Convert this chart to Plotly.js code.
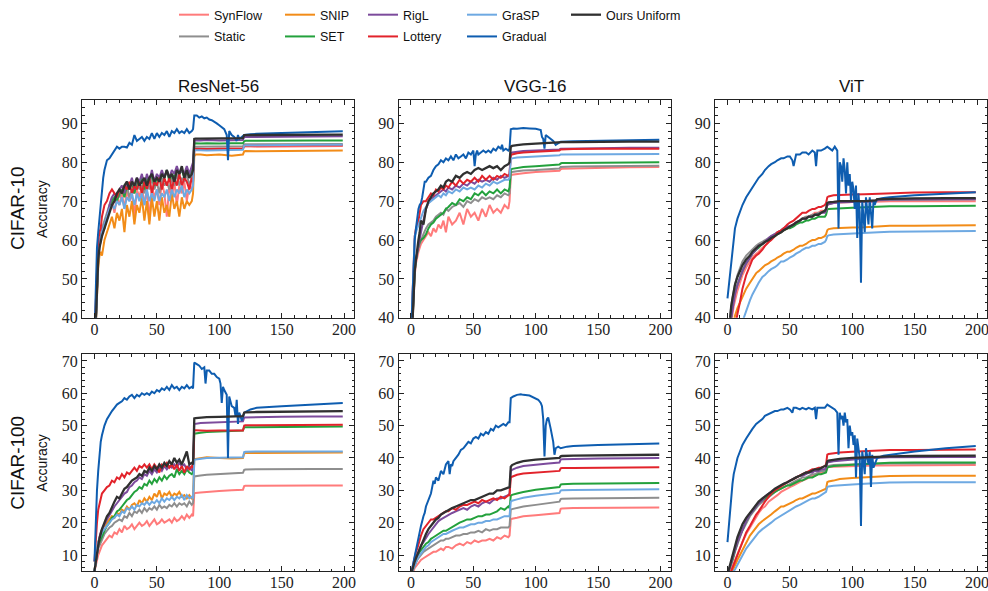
<!DOCTYPE html>
<html>
<head>
<meta charset="utf-8">
<script src="https://cdn.plot.ly/plotly-3.0.1.min.js"></script>
<style>html,body{margin:0;padding:0;background:#fff;}#chart{width:988px;height:591px;}</style>
</head>
<body>
<div id="chart"></div>
<script>
// ---------------- DATA ----------------
const METHODS = ['SynFlow','Static','SNIP','SET','RigL','Lottery','GraSP','Gradual','Ours Uniform'];
const COLUMN_TITLES = ['ResNet-56','VGG-16','ViT'];
const ROW_TITLES = ['CIFAR-10','CIFAR-100'];
const X_TICKS = [0,50,100,150,200];

// epoch grids
const EPOCHS_RES = [0,1,2,3,4,5,6,
 8,10,12,14,16,18,20,22,24,26,28,30,32,34,36,38,40,42,44,46,48,50,52,54,56,58,60,62,64,66,68,70,72,74,76,78,
 79,80,81,85,90,100,110,119,120,121,130,150,175,199];
const EPOCHS_VGG = [0,1,2,3,4,5,6,7,8,
 10,12,14,16,18,20,22,24,26,28,30,
 33,36,39,42,45,48,51,54,57,60,63,66,69,72,75,78,
 79,80,81,85,90,100,110,119,120,121,130,150,175,199];
const EPOCHS_VIT = [0,1,2,3,4,5,6,
 8,10,12,15,18,20,23,25,28,30,
 33,35,38,40,43,45,48,50,53,55,
 58,60,63,65,68,70,73,75,78,
 79,80,81,85,90,100,110,119,120,121,130,150,175,199];

// ResNet-56 / CIFAR-10
const SYNFLOW_RES_C10 = [30,38,48,55,58,60,62,
 64,66,68,70,67,71,69,72,68,
 73,70,72,66,73,71,74,69,73,
 65,74,71,73,69,75,72,66,74,
 71,75,69,74,72,75,70,74,73,
 75,83.5,83.6,83.5,83.4,83.6,83.5,83.6,84,84.1,84,84.1,84.1,84.2];
const STATIC_RES_C10 = [30,40,50,56,59,61,63,
 65,67,69,71,70,72,71,73,72,
 74,71,73,72,75,73,74,72,75,
 73,76,73,75,72,76,74,75,73,
 76,74,77,74,76,75,77,74,76,
 77,84,84,84,84.1,84,84.1,84.1,84.6,84.6,84.6,84.7,84.7,84.7];
const SNIP_RES_C10 = [30,38,47,53,56,57,56,
 60,62,64,66,63,67,65,68,62,
 69,66,70,64,69,67,71,65,70,
 64,71,66,70,65,71,67,69,66,
 72,68,70,66,71,68,70,69,70,
 72,81.5,82,82,81.8,82,81.7,82,82.8,82.9,82.8,82.9,82.9,83];
const SET_RES_C10 = [30,40,50,56,59,60,62,
 63,66,68,70,71,70,72,73,71,
 74,73,75,72,75,74,76,73,76,
 75,77,74,76,75,77,76,78,75,
 77,76,78,77,78,76,78,77,78,
 79,84.8,84.9,84.8,84.9,84.8,84.9,84.9,85.4,85.5,85.5,85.6,85.6,85.6];
const RIGL_RES_C10 = [30,40,51,56,59,61,62,
 64,66,69,71,72,71,73,74,72,
 75,74,76,73,76,75,77,74,77,
 75,78,75,77,76,78,76,78,76,
 78,77,79,77,78,77,79,77,79,
 80,85.5,85.6,85.6,85.7,85.6,85.7,85.7,86.5,86.5,86.6,86.6,86.6,86.7];
const LOTTERY_RES_C10 = [35,45,55,60,62,63,66,
 69,70,72,73,72,71,73,72,74,
 73,75,72,74,73,75,72,75,73,
 76,72,75,74,76,73,76,74,76,
 73,76,74,77,74,76,75,73,76,
 75,83.3,83.4,83.4,83.5,83.4,83.5,83.5,84.2,84.3,84.3,84.4,84.4,84.4];
const GRASP_RES_C10 = [30,40,50,55,58,60,62,
 64,66,68,69,68,70,69,71,68,
 71,70,72,69,72,70,72,69,73,
 70,72,70,73,70,72,71,73,70,
 73,71,73,72,74,71,73,72,73,
 74,83,83.1,83.1,83,83.1,83.2,83.2,84.3,84.4,84.4,84.5,84.5,84.5];
const OURS_RES_C10 = [30,38,48,55,58,60,61,
 63,65,67,69,70,72,73,72,74,
 75,73,75,74,76,74,75,76,74,
 76,77,75,76,75,77,76,78,76,
 77,75,78,77,79,76,78,76,77,
 78,86,86.1,86.1,86.1,86.1,86.2,86.2,87,87,87,87.1,87.1,87.1];
const GRADUAL_RES_C10_X = [0,1,2,3,4,5,6,7,8,9,
 10,12,14,16,18,20,22,24,26,28,
 30,32,34,36,38,40,42,44,46,48,
 50,52,54,56,58,60,62,64,66,68,
 70,72,74,76,78,79,80,82,84,86,
 88,90,92,94,96,98,100,102,104,106,
 107,108,110,112,114,115,116,118,119,120,
 125,130,150,175,199];
const GRADUAL_RES_C10 = [35,48,58,62,66,70,73,76,78,79,
 80.5,81,82,83,84,83.5,84,84,83.8,85,
 84.5,87,85.5,86,86.5,85.5,86.5,86,87.5,86,
 87.5,86.5,87.5,87,88,86.5,88,87.5,88.5,87.5,
 88,87.5,88.5,87.5,88,88.5,92,92,91.5,91.8,
 91.3,91.5,91,90.8,90.5,90,89.5,89,88.5,87,
 80.5,88,87,86.5,85.5,87,86,86.5,86.8,87,
 87.2,87.3,87.5,87.8,88];

// ResNet-56 / CIFAR-100
const SYNFLOW_RES_C100 = [5,7,9,10,11,12,13,
 14,15,16,15.5,17,16.5,18,17,19,
 18,18.5,19.5,18,19,20,19,19.5,20.5,
 19,20,21,19.5,20,21,20,20.5,21,
 20,21.5,20.5,21,22,21,22.5,21.5,22.5,
 22,29,29.2,29.3,29.5,29.8,30,30.2,31.3,31.4,31.4,31.5,31.5,31.5];
const STATIC_RES_C100 = [5,8,10,12,13,14,15,
 16.5,17.5,18.5,19,20,20.5,21,20.5,22,
 21.5,23,22,23.5,23,24,23,24.5,23.5,
 24.5,24,25,24,25.5,24.5,25,24.5,25.5,
 25,26,25,26,25.5,26,25,26.5,25.5,
 26,34.3,34.4,34.6,34.8,35,35.2,35.4,36.3,36.4,36.5,36.6,36.6,36.6];
const SNIP_RES_C100 = [5,9,12,14,15.5,17,18,
 19,20,21,22,21.5,23,22.5,24,23.5,
 25,24,25.5,26,25,27,26,27.5,26.5,
 28,27,29,28,30,27.5,29,28.5,29.5,
 28,29,28.5,29.5,28,28.5,27.5,28.5,27.5,
 28,39.5,39.7,40,40.2,40,39.8,40,41.4,41.5,41.5,41.6,41.6,41.7];
const SET_RES_C100 = [5,8,11,13,14,15,16,
 17.5,19,20,21.5,22,23.5,24,25,26,
 27,27.5,28.5,29.5,30,31,30.5,32,31.5,
 33,32,33.5,32.5,34,33,34.5,33.5,34.5,
 35,34,36.5,35,36,35,36.5,35.5,35,
 35.5,47.5,47.6,47.8,48,48.2,48.3,48.5,49.5,49.5,49.6,49.7,49.7,49.7];
const RIGL_RES_C100 = [5,8,11,14,15.5,17,18,
 19.5,21,22.5,24,25,26,27,28,29,
 29.5,31,31.5,32.5,33,34,33.5,35,34.5,
 36,35,36.5,35.5,37,36,37.5,36.5,37.5,
 37,38,37,38.5,37.5,38,36.5,37.5,36,
 37,50.5,50.6,50.8,50.9,51,51.2,51.3,52.5,52.5,52.6,52.7,52.8,52.8];
const LOTTERY_RES_C100 = [8,15,20,24,26,28,29,
 30,31,31.5,33,32.5,34,33.5,35,34,
 35.5,35,36,37,36,37.5,37,38,37,
 38,36.5,38,37,35.5,38,37.5,38.5,37,
 38,36.5,38,36,37.5,35.5,37.5,36.5,37.5,
 37,48.5,48.6,48.5,48.4,48.5,48.4,48.5,50,50.1,50.1,50.2,50.2,50.3];
const GRASP_RES_C100 = [5,9,12,14,15,16,17,
 18,19,20,21,21.5,22.5,22,23.5,23,
 24.5,24,25,24,25.5,25,26,25.5,26.5,
 25.5,26.5,26,27,26,27.5,26.5,27.5,27,
 28,27,28,27.5,28.5,27,28.5,27.5,28,
 27.5,39.3,39.5,39.8,40,40.1,40.2,40.2,41.8,41.9,42,42,42,42];
const OURS_RES_C100 = [5,8,11,13,15,17,18,
 20,22,23,25,26.5,28,27.5,29,30.5,
 31,32,33,33.5,34,35,34.5,36,35.5,
 37,36,37.5,36.5,38,37,38.5,37.5,39,
 38,40,38.5,39.5,38,40,42,38,38.5,
 38,52.2,52.3,52.5,52.6,52.7,52.8,52.9,54,54.1,54.2,54.3,54.4,54.5];
const GRADUAL_RES_C100_X = [0,1,2,3,4,5,6,7,8,10,
 12,14,16,18,20,22,24,26,28,30,
 32,34,36,38,40,42,44,46,48,50,
 52,54,56,58,60,62,64,66,68,70,
 72,74,76,78,79,80,82,84,86,88,
 89,90,92,94,96,98,100,101,102,103,
 104,106,107,108,110,112,113,114,115,116,
 117,118,119,120,125,130,150,175,199];
const GRADUAL_RES_C100 = [8,20,30,36,41,45,47,49,50,52,
 53.5,54.5,55.5,56.5,57,57.5,58.5,58,59,59.5,
 58.5,59.5,59,60,59.5,60,59.5,60.5,60,61,
 60.5,61.5,61,62,61,62.5,61.5,62,61,62,
 61.5,62.5,61.5,62,61.5,69.5,69,68.5,67.5,68,
 63,67,67,66,66,65,64.5,63,57,62,
 61,59.5,40,59,56,55.5,53,58,50.5,54,
 53,51.5,52.5,54,55,55.5,56,56.6,57];

// VGG-16 / CIFAR-10
const SYNFLOW_VGG_C10 = [30,38,46,51,54,56,57,58,59,
 60,61,62,61,63,62,64,63,65,62,66,
 64,65,67,64,68,66,67,65,68,66,69,67,68,67,69,68,
 70,76.5,76.8,77,77.2,77.5,77.6,77.8,78.2,78.3,78.4,78.6,78.7,78.8];
const STATIC_VGG_C10 = [30,38,47,52,55,57,58,59,60,
 61.5,63,64,64.5,65,66,66.5,67,66.5,68,67.5,
 68.5,69,69.5,68.5,70,69.5,70.5,70,71,70.5,71,70.5,71.5,71,72,71.5,
 72,77.3,77.5,77.7,77.9,78,78.2,78.4,78.8,78.8,78.9,79,79,79.1];
const SET_VGG_C10 = [30,38,47,52,55,57,58.5,59.5,60,
 60.5,61.5,63,64,64.5,65.5,66,66.5,67,68,68.5,
 69.5,69,70.5,70,71,70.5,72,71.5,72.5,71.5,72.5,72,73,72,73,72.5,
 73.5,78,78.3,78.6,78.8,79,79.2,79.4,79.7,79.8,79.8,79.9,80,80];
const RIGL_VGG_C10 = [30,39,48,53,55,57,58,60,62,
 65,68,69.5,70.5,71,71.5,72,72.5,73,72.5,73.5,
 73,74,73.5,74.5,74,75,74.5,75.5,75,75.5,75,76,75.5,76.5,76,76.5,
 77,82.3,82.5,82.7,82.9,83,83.1,83.3,83.5,83.5,83.6,83.6,83.7,83.7];
const LOTTERY_VGG_C10 = [35,45,55,61,63,64,65,67,69,
 70,70,71,72,71.5,73,72.5,73.5,73,74,73.5,
 75,74,75.5,74.5,75.5,75,76,75,76.5,75.5,76.5,75.5,76.5,76,77,76.5,
 77,81.8,82,82.3,82.5,82.7,82.8,83,83.3,83.3,83.4,83.5,83.5,83.5];
const GRASP_VGG_C10 = [35,45,55,61,62,63,64,65,66,
 67.5,68.5,69.5,70,70.5,71,71.5,71,72,71.5,72.5,
 72,73,72.5,73.5,73,73.5,73,74,73.5,74.5,74,75,74.5,75,75.5,75.5,
 76,80.8,81,81.2,81.3,81.5,81.6,81.8,82,82,82,82.1,82.1,82.1];
const OURS_VGG_C10 = [30,38,46,52,55,58,60,62,65,
 64,68,70,71,72,72.5,73,74,73.5,75,75.5,
 75,76.5,76,77,77.5,77,78,78.5,78,78.5,79,78.5,79,78,79,79.5,
 80,84,84.2,84.4,84.6,84.8,85,85.1,85.2,85.2,85.2,85.3,85.3,85.3];
const GRADUAL_VGG_C10_X = [0,1,2,3,4,5,6,7,8,9,
 10,11,12,14,16,18,20,22,24,26,
 28,30,32,34,36,38,40,42,44,46,
 48,50,51,52,53,54,56,58,60,62,
 64,66,68,70,72,73,74,76,78,79,
 80,82,85,90,95,100,104,105,106,107,
 108,110,112,114,116,118,120,130,150,175,
 199];
const GRADUAL_VGG_C10 = [35,45,55,60,63,66,68,69,69.5,71,
 73,75,75,76,76.5,78,79,79.5,80.5,80,
 81,80.5,81.5,80.5,82,81,81.5,82,81,82.5,
 82,83,79,82,83,82,82.5,83,82.5,83,
 82.5,83.5,83,84,83.5,84.5,83,83.5,83,83.5,
 88.5,88.7,88.6,88.8,88.7,88.6,88.3,86.5,86,83.5,
 87,86.5,86,85.5,84.5,85,85.3,85.4,85.5,85.7,
 85.8];

// VGG-16 / CIFAR-100
const SYNFLOW_VGG_C100 = [4,4.5,5,6,6.5,7,7.5,8,8.5,
 9,9.5,10,10.5,11,11,11.5,12,11.5,12.5,12.5,
 12,13,13.5,13,14,13.5,14.5,14,14.5,14.5,15,14.5,15.5,15,16,15.5,
 16,21,21.2,21.5,22,22.3,22.6,23,24.3,24.4,24.5,24.6,24.7,24.7];
const STATIC_VGG_C100 = [4,5,6,7,8,8.5,9,9.5,10,
 11,11.5,12,12.5,13,13.5,14,14.5,14.5,15,15,
 15.5,16,16,16.5,16.5,17,17,17.5,17,18,17.5,18,18,18.5,18.5,18.5,
 19,24,24.2,24.5,25,25.5,26,26.5,27.3,27.4,27.5,27.6,27.7,27.7];
const SET_VGG_C100 = [4,5,6.5,7.5,8.5,9,10,11,11.5,
 12.5,13.5,14,15,15.5,16,16.5,17,17.5,17.5,18,
 18.5,19.5,20,20.5,21,21,21.5,22,22,22.5,22.5,23,23.5,24.5,24,25,
 24.5,28.3,28.6,29,29.5,30.2,30.7,31,31.8,31.9,32,32.1,32.2,32.3];
const RIGL_VGG_C100 = [4,5.5,7,8,9,10,11,12,13,
 14,15.5,16.5,17.5,18.5,19.5,20.5,21,21.5,22,22.5,
 23,23.5,24,24.5,24,25,25.5,25,26,26.5,26,27,27.5,27.5,28,28.5,
 29,36,36.3,37,37.5,38,38.3,38.6,39.5,39.6,39.7,39.8,39.9,40];
const LOTTERY_VGG_C100 = [4,6,8,10,11,12,13.5,15,16,
 18,19,20,21,21,21.5,22,22.5,23,23.5,23.5,
 24.5,24,25,25.5,25.5,26,26.5,26,27,26.5,27,27.5,27,28,27.5,28.5,
 28.5,34,34.2,34.8,35.2,35.5,35.8,36,36.8,36.9,36.9,37,37,37.1];
const GRASP_VGG_C100 = [4,5,6,7,8,8.5,9.5,10,10.5,
 11.5,12.5,13,14,14.5,15,15.5,16,16.5,16.5,17,
 17.5,18,18.5,18.5,19,19.5,19.5,20,20,20.5,20.5,21,21,21.5,22,22,
 22,26.5,26.8,27.2,27.7,28.3,28.8,29.2,29.9,30,30.1,30.2,30.3,30.3];
const OURS_VGG_C100 = [4,5.5,7,8,9,10,11,12,13,
 15,16.5,18,19,20,21,21.5,22.5,23,23.5,24,
 24.5,25,25.5,26,26.5,27,27,27.5,28,28.5,29,29,30,30,30.5,31,
 31,37.3,37.8,38.5,39,39.5,39.8,40,40.5,40.6,40.7,40.8,40.9,41];
const GRADUAL_VGG_C100_X = [0,1,2,3,4,5,6,8,10,11,
 12,13,14,15,16,17,18,19,20,22,
 24,26,28,30,31,32,33,34,36,38,
 40,42,44,46,48,50,52,54,56,58,
 60,62,64,66,68,70,72,74,76,78,
 79,80,82,85,88,90,95,100,102,104,
 105,106,107,108,109,110,111,112,113,114,
 115,116,118,120,125,130,150,175,199];
const GRADUAL_VGG_C100 = [4,6,8,10,12,14,16,19,22,23,
 25,26,27,27.5,29,31,33,32,34,33,
 36,35,38,39,35,38,37.5,39,40,41,
 42.5,43,44,45,44.5,46,46.5,46,47.5,47,
 48,47.5,49,48.5,50,49.5,50,50.5,50,51,
 51,58.5,59,59.5,59.7,59.5,59.3,58.5,58,57,
 56,52,40.5,50,52,52.5,50,49,47,45,
 41,43,43.5,43,43.5,43.7,44,44.3,44.5];

// ViT / CIFAR-10
const SYNFLOW_VIT_C10 = [30,33,36,39,41,43,44.5,
 47,49,51,53,54.5,55.5,56.5,57,58,58.5,
 59.5,60,61,61.5,62,62.5,63,63.5,64,64.5,
 65,65.5,66,66,66.5,67,67,67.5,67.5,
 68,69.3,69.5,69.6,69.7,69.8,69.8,69.9,69.9,70,70,70,70,70];
const STATIC_VIT_C10 = [33,37,40,43,45,47,48.5,
 51,53,54.5,56,57,57.5,58.5,59,59.5,60,
 60.5,61,61.5,62,62.5,63,63.5,63.5,64,64.5,
 65,65.5,66,66,66.5,66.5,67,67,67.5,
 67.5,69,69.2,69.5,69.7,69.8,69.9,70,70.1,70.2,70.3,70.4,70.5,70.5];
const SNIP_VIT_C10 = [30,31,33,35,37,39,40.5,
 42.5,44,45.5,47.5,49,50,51.5,52,53,53.5,
 54,54.5,55,55.5,56,56.5,57,57,57.5,58,
 58.5,58.5,59,59.5,60,60,60.5,60.5,61,
 61.5,62.5,62.8,63,63.1,63.2,63.3,63.4,63.6,63.6,63.7,63.7,63.8,63.8];
const SET_VIT_C10 = [32,35,38,41,43,45,46.5,
 48.5,50.5,52,54,55.5,56.5,57.5,58,59,59.5,
 60,60.5,61,61.5,62,62.5,63,63,63.5,64,
 64.5,64.5,65,65,65.5,65.5,66,66,66,
 66.5,67.8,68,68.1,68.2,68.3,68.4,68.5,68.6,68.6,68.7,68.7,68.8,68.8];
const RIGL_VIT_C10 = [32,35,37,40,42,44,46,
 48.5,50.5,52,54,55.5,56.5,57.5,58.5,59,59.5,
 60.5,61,61.5,62,62.5,63,63.5,63.5,64,64.5,
 65,65.5,65.5,66,66,66.5,66.5,67,67,
 67.5,69,69.2,69.5,69.7,69.8,69.9,70,70.2,70.3,70.4,70.5,70.5,70.5];
const LOTTERY_VIT_C10 = [25,28,30,32,34,36,38,
 41,44,47.5,51,53.5,55,56,56.5,57.5,58.5,
 59.5,60,61,62,62.5,63,64,64.5,65,65.5,
 66.5,67,67,67.5,68,68,68.5,68.5,69,
 69.5,71,71.2,71.5,71.6,71.7,71.8,71.9,72,72,72.1,72.2,72.3,72.3];
const GRASP_VIT_C10 = [25,27,28.5,30,31.5,33,34,
 36,37.5,39,42,44.5,46,48,49,50.5,51,
 52,52.5,53,53.5,54.5,54.5,55,55.5,56,56.5,
 57,57.5,58,58,58.5,58.5,59,59,59.5,
 60,61,61.2,61.4,61.5,61.7,61.8,61.9,62,62,62.1,62.2,62.3,62.3];
const OURS_VIT_C10 = [33,37,40,43,45,47,48.5,
 50.5,52,53.5,55,56,57,58,58.5,59,59.5,
 60,60.5,61,61.5,62,62.5,63,63.5,64,64.5,
 65,65.5,65.5,66,66,66.5,66.5,67,67.5,
 68,69.5,69.7,69.8,70,70,70,70.2,70.5,70.5,70.6,70.7,70.8,70.8];
const GRADUAL_VIT_X = [0,1,2,3,4,5,6,8,10,12,
 15,18,20,23,25,28,30,33,35,38,
 40,43,45,48,50,52,53,55,58,60,
 63,65,68,70,71,72,75,78,80,82,
 84,86,88,89,90,91,92,93,94,95,
 96,97,98,99,100,101,102,103,104,105,
 106,107,108,109,110,111,112,113,114,115,
 116,117,118,119,120,125,130,150,175,199];
const GRADUAL_VIT_C10 = [45,48,51,55,58,61,63,65.5,67.5,69,
 71,72.5,73.5,75,76,77,78,79,79.5,80,
 80.5,81,81,81.5,81.5,80.5,79,82,82,82.5,
 82.5,82,83,82.5,79,83,83,83.5,84,83.5,
 83,84,83,63,80,79,75,81,78,72,
 80,74,77,70,75,73,68,74,60.5,72,
 67,49,70,66,62,71,68,64,71,66,
 63,70,69,70,70.5,70.8,71,71.5,72,72.3];

// ViT / CIFAR-100
const SYNFLOW_VIT_C100 = [4,4.5,5,5.5,6.5,7.5,8.5,
 10.5,12,14,16.5,18.5,20,22,23,24.5,25,
 26.5,27,28,28.5,29.5,30,30.5,31,31.5,32,
 32.5,33,33.5,34,34.5,34.5,35,35.5,35.5,
 36,37,37.2,37.3,37.4,37.5,37.6,37.7,37.7,37.8,37.8,37.8,37.8,37.8];
const STATIC_VIT_C100 = [4,5,6,7,8,9.5,11,
 13.5,15.5,17.5,20,22,23,24.5,25.5,26.5,27,
 28,28.5,29.5,30,30.5,31,31.5,32,32.5,33,
 33.5,34,34,34.5,35,35,35.5,36,36,
 36.5,37.5,37.6,37.8,37.9,38,38.1,38.2,38.2,38.3,38.3,38.3,38.4,38.4];
const SNIP_VIT_C100 = [3,3.5,4,4.5,5,6,7,
 8.5,10,11.5,14,16,17,18.5,19.5,20.5,21,
 22,22.5,23.5,24,25,25,25.5,26,26.5,27,
 27.5,27.5,28,28.5,29,29,29.5,30,30.5,
 30.5,32.5,32.7,33,33.5,33.8,34,34.2,34.3,34.3,34.4,34.5,34.5,34.5];
const SET_VIT_C100 = [4,5,6,7,8.5,10,11.5,
 14,16,18,20.5,22.5,23.5,25,26,27,27.5,
 28.5,29,29.5,30,30.5,31,31.5,31.5,32,32.5,
 33,33,33.5,34,34,34.5,35,35,35.5,
 35.5,37,37.2,37.5,37.7,37.9,38.1,38.3,38.4,38.4,38.5,38.6,38.6,38.6];
const RIGL_VIT_C100 = [4,5,6,7.5,9,10,11.5,
 14,16,18,20.5,22.5,23.5,25,26,27,28,
 29,29.5,30.5,31,31.5,32,32.5,33,33.5,34,
 34.5,34.5,35,35.5,35.5,36,36,36.5,36.5,
 37,38.5,38.7,39,39.2,39.5,39.8,40,40.1,40.1,40.2,40.3,40.3,40.3];
const LOTTERY_VIT_C100 = [3,3.5,4,5,6,7,8.5,
 10.5,12.5,14.5,17,19,20.5,22.5,23.5,25.5,26.5,
 28,29,30,30.5,31.5,32,32.5,33,33.5,34,
 34.5,35,35.5,36,36.5,36.5,37,37,37.5,
 38,41,41.2,41.5,41.7,41.9,42.1,42.3,42.4,42.4,42.5,42.5,42.6,42.6];
const GRASP_VIT_C100 = [3,3.3,3.6,4,4.5,5,5.5,
 7,8.5,10,12,13.5,14.5,16,17,18,18.5,
 19.5,20,21,21.5,22,22.5,23.5,24,24.5,25,
 25.5,26,26.5,27,27.5,27.5,28,28.5,29,
 29.5,31,31.2,31.4,31.6,31.8,32,32.2,32.3,32.3,32.4,32.5,32.5,32.5];
const OURS_VIT_C100 = [4,5.5,7,8.5,10,11.5,13,
 15.5,17.5,19.5,21.5,23,24,25.5,26.5,27.5,28,
 29,29.5,30.5,31,31.5,32,32.5,33,33.5,34,
 34.5,35,35.5,35.5,36,36.5,36.5,37,37.5,
 37.5,39,39.2,39.5,39.7,40,40.2,40.3,40.4,40.4,40.5,40.6,40.7,40.7];
const GRADUAL_VIT_C100 = [14,19,24,28,32,35,37,40,42,44,
 46,48,49,50.5,51,52,53,53.5,54,54.5,
 54.5,55,55,55.5,55,54,55.5,55.5,55,55.5,
 55,55.5,55,55.5,52,55.5,55.5,55.5,56.5,56,
 55.5,55,54,41,54,52,53,50,54,51,
 52,43,50,47,48,44,47,34,46,43,
 40,19,42,39,35,43,40,38,42,31,
 41,37,38,39,40,40.7,41,42,43,43.7];

// ---------------- STYLE ----------------
const COLORS = {
  'SynFlow':'#ff7b7b','Static':'#8e8e8e','SNIP':'#f28c18','SET':'#23a13c',
  'RigL':'#7c4b9c','Lottery':'#e2232b','GraSP':'#6ea9e2','Gradual':'#0e5db0','Ours Uniform':'#303030'
};
const LEGEND_OF = {
  'SynFlow':'legend','Static':'legend','SNIP':'legend2','SET':'legend2',
  'RigL':'legend3','Lottery':'legend3','GraSP':'legend4','Gradual':'legend4','Ours Uniform':'legend5'
};

const panels = [
  {ax:'', x:EPOCHS_RES, s:{'SynFlow':SYNFLOW_RES_C10,'Static':STATIC_RES_C10,'SNIP':SNIP_RES_C10,'SET':SET_RES_C10,'RigL':RIGL_RES_C10,'Lottery':LOTTERY_RES_C10,'GraSP':GRASP_RES_C10,'Ours Uniform':OURS_RES_C10}, gx:GRADUAL_RES_C10_X, gy:GRADUAL_RES_C10},
  {ax:'2', x:EPOCHS_VGG, s:{'SynFlow':SYNFLOW_VGG_C10,'Static':STATIC_VGG_C10,'SET':SET_VGG_C10,'RigL':RIGL_VGG_C10,'Lottery':LOTTERY_VGG_C10,'GraSP':GRASP_VGG_C10,'Ours Uniform':OURS_VGG_C10}, gx:GRADUAL_VGG_C10_X, gy:GRADUAL_VGG_C10},
  {ax:'3', x:EPOCHS_VIT, s:{'SynFlow':SYNFLOW_VIT_C10,'Static':STATIC_VIT_C10,'SNIP':SNIP_VIT_C10,'SET':SET_VIT_C10,'RigL':RIGL_VIT_C10,'Lottery':LOTTERY_VIT_C10,'GraSP':GRASP_VIT_C10,'Ours Uniform':OURS_VIT_C10}, gx:GRADUAL_VIT_X, gy:GRADUAL_VIT_C10},
  {ax:'4', x:EPOCHS_RES, s:{'SynFlow':SYNFLOW_RES_C100,'Static':STATIC_RES_C100,'SNIP':SNIP_RES_C100,'SET':SET_RES_C100,'RigL':RIGL_RES_C100,'Lottery':LOTTERY_RES_C100,'GraSP':GRASP_RES_C100,'Ours Uniform':OURS_RES_C100}, gx:GRADUAL_RES_C100_X, gy:GRADUAL_RES_C100},
  {ax:'5', x:EPOCHS_VGG, s:{'SynFlow':SYNFLOW_VGG_C100,'Static':STATIC_VGG_C100,'SET':SET_VGG_C100,'RigL':RIGL_VGG_C100,'Lottery':LOTTERY_VGG_C100,'GraSP':GRASP_VGG_C100,'Ours Uniform':OURS_VGG_C100}, gx:GRADUAL_VGG_C100_X, gy:GRADUAL_VGG_C100},
  {ax:'6', x:EPOCHS_VIT, s:{'SynFlow':SYNFLOW_VIT_C100,'Static':STATIC_VIT_C100,'SNIP':SNIP_VIT_C100,'SET':SET_VIT_C100,'RigL':RIGL_VIT_C100,'Lottery':LOTTERY_VIT_C100,'GraSP':GRASP_VIT_C100,'Ours Uniform':OURS_VIT_C100}, gx:GRADUAL_VIT_X, gy:GRADUAL_VIT_C100}
];

const traces = [];
panels.forEach((p, pi) => {
  METHODS.forEach(m => {
    let xs, ys;
    if (m === 'Gradual') { xs = p.gx; ys = p.gy; }
    else { ys = p.s[m]; xs = p.x; }
    if (!ys) return;
    if (xs.length !== ys.length) console.warn('length mismatch', pi, m, xs.length, ys.length);
    traces.push({
      type:'scatter', mode:'lines', x:xs, y:ys, name:m,
      xaxis:'x'+p.ax, yaxis:'y'+p.ax,
      line:{color:COLORS[m], width:(m==='Ours Uniform'?2.3:2)},
      showlegend: pi===0, legend: LEGEND_OF[m], legendgroup:m, hoverinfo:'skip'
    });
  });
});

const W = 988, H = 591;
const colPx = [[82,354],[398.5,670.5],[715,987]];
const rowPx = [[95,315],[352,571]];
const tickFont = {family:'Liberation Serif', size:16, color:'#222'};
function xAxis(ci, ri){
  const n = ri*3+ci+1;
  return {domain:[colPx[ci][0]/W, colPx[ci][1]/W], anchor:'y'+(n===1?'':n),
    range:[-10,208], tickmode:'array', tickvals:X_TICKS, ticks:'inside', ticklen:5, tickwidth:1, tickcolor:'#222',
    showline:true, linecolor:'#222', linewidth:1, mirror:'allticks', showgrid:false, zeroline:false,
    ticklabeloverflow:'allow', ticklabelstandoff:-3,
    tickfont:tickFont, minor:{tickmode:'linear', tick0:0, dtick:10, ticks:'inside', ticklen:2.5, tickcolor:'#222', showgrid:false}};
}
function yAxis(ci, ri){
  const n = ri*3+ci+1;
  return {domain:[1-rowPx[ri][1]/H, 1-rowPx[ri][0]/H], anchor:'x'+(n===1?'':n),
    range: ri===0 ? [40,96] : [5,72], tick0:0, dtick:10, ticks:'inside', ticklen:5, tickwidth:1, tickcolor:'#222',
    showline:true, linecolor:'#222', linewidth:1, mirror:'allticks', showgrid:false, zeroline:false,
    ticklabeloverflow:'allow',
    tickfont:tickFont, minor:{tick0:0, dtick:2, ticks:'inside', ticklen:2.5, tickcolor:'#222', showgrid:false}};
}

const layout = {
  width:W, height:H, margin:{l:0,r:0,t:0,b:0}, paper_bgcolor:'#fff', plot_bgcolor:'#fff',
  font:{family:'Liberation Sans', color:'#222'},
  annotations:[], showlegend:true
};
for (let ri=0; ri<2; ri++) for (let ci=0; ci<3; ci++){
  const n = ri*3+ci+1, s = n===1?'':n;
  layout['xaxis'+s] = xAxis(ci, ri);
  layout['yaxis'+s] = yAxis(ci, ri);
}
COLUMN_TITLES.forEach((t, ci) => {
  layout.annotations.push({text:t, xref:'paper', yref:'paper', x:(colPx[ci][0]+colPx[ci][1])/2/W, y:1-81/H,
    xanchor:'center', yanchor:'middle', showarrow:false, font:{family:'Liberation Sans', size:17, color:'#111'}});
});
ROW_TITLES.forEach((t, ri) => {
  const yc = 1-(rowPx[ri][0]+rowPx[ri][1])/2/H;
  layout.annotations.push({text:t, xref:'paper', yref:'paper', x:18/W, y:yc, textangle:-90,
    xanchor:'center', yanchor:'middle', showarrow:false, font:{family:'Liberation Sans', size:19, color:'#111'}});
  layout.annotations.push({text:'Accuracy', xref:'paper', yref:'paper', x:42/W, y:yc, textangle:-90,
    xanchor:'center', yanchor:'middle', showarrow:false, font:{family:'Liberation Sans', size:14, color:'#111'}});
});
const legendX = [174,280,363,462,566];
['legend','legend2','legend3','legend4','legend5'].forEach((lk, i) => {
  layout[lk] = {x:legendX[i]/W, y:1+6/H, xanchor:'left', yanchor:'top', orientation:'v', bgcolor:'rgba(0,0,0,0)',
    borderwidth:0, tracegroupgap:2.5, itemwidth:30, font:{family:'Liberation Sans', size:12.5, color:'#111'}};
});

Plotly.newPlot('chart', traces, layout, {staticPlot:true, displayModeBar:false});
</script>
</body>
</html>
